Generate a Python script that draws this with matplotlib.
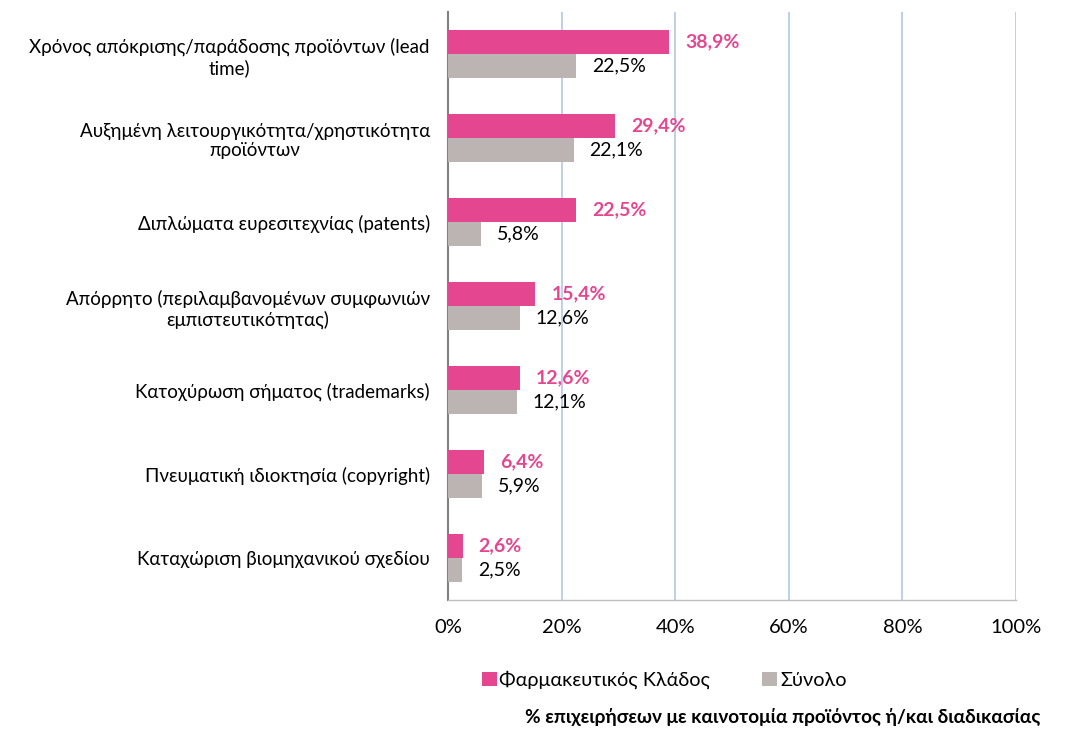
import matplotlib
matplotlib.use("Agg")
import matplotlib.pyplot as plt
import numpy as np

plt.rcParams['font.family'] = ['Lato', 'DejaVu Sans']

categories = [
    "Χρόνος απόκρισης/παράδοσης προϊόντων (lead\ntime)",
    "Αυξημένη λειτουργικότητα/χρηστικότητα\nπροϊόντων",
    "Διπλώματα ευρεσιτεχνίας (patents)",
    "Απόρρητο (περιλαμβανομένων συμφωνιών\nεμπιστευτικότητας)",
    "Κατοχύρωση σήματος (trademarks)",
    "Πνευματική ιδιοκτησία (copyright)",
    "Καταχώριση βιομηχανικού σχεδίου",
]
pharma = [38.9, 29.4, 22.5, 15.4, 12.6, 6.4, 2.6]
total = [22.5, 22.1, 5.8, 12.6, 12.1, 5.9, 2.5]
series_names = ["Φαρμακευτικός Κλάδος", "Σύνολο"]
xticks = [0, 20, 40, 60, 80, 100]

pink = "#E4478F"
grey = "#BCB4B3"

fig = plt.figure(figsize=(10.72, 7.29), dpi=100)
ax = fig.add_axes([448/1072, 1-600/729, (1016-448)/1072, 588/729])

y = np.arange(len(categories))
h = 0.286
ax.barh(y - h/2, pharma, height=h, color=pink, label=series_names[0], zorder=3)
ax.barh(y + h/2, total, height=h, color=grey, label=series_names[1], zorder=3)

def fmt(v):
    return f"{v:.1f}%".replace(".", ",")

for yi, p, t in zip(y, pharma, total):
    ax.annotate(fmt(p), (p, yi - h/2), xytext=(11.5, 0), textcoords="offset points",
                va="center", ha="left", color=pink, fontweight="bold", fontsize=14)
    ax.annotate(fmt(t), (t, yi + h/2), xytext=(11.5, 0), textcoords="offset points",
                va="center", ha="left", color="black", fontsize=14)

ax.set_ylim(len(categories) - 0.5, -0.5)
ax.set_xlim(0, 100)
ax.set_xticks(xticks)
ax.set_xticklabels([f"{v}%" for v in xticks], fontsize=14.5)
ax.set_yticks(y)
ax.set_yticklabels(categories, fontsize=13.5, ha="right", multialignment="center")
ax.tick_params(axis="y", length=0, pad=13)
ax.tick_params(axis="x", length=0, pad=14)
ax.grid(axis="x", color="#B4C7E7", linewidth=1.2, zorder=0)
for s in ["top", "right"]:
    ax.spines[s].set_visible(False)
ax.spines["left"].set_color("#808080")
ax.spines["left"].set_linewidth(1.5)
ax.spines["bottom"].set_color("#BFBFBF")
ax.spines["bottom"].set_linewidth(1)

fig.legend(loc="center", bbox_to_anchor=(664/1072, 1-680/729), ncol=2, frameon=False,
           fontsize=14.3, handlelength=0.75, handleheight=0.75, columnspacing=2.6, handletextpad=0.15)
fig.text(1040/1072, 1-717/729, "% επιχειρήσεων με καινοτομία προϊόντος ή/και διαδικασίας",
         ha="right", va="center", fontsize=13.7, fontweight="bold")

fig.savefig("out.png", dpi=100)
